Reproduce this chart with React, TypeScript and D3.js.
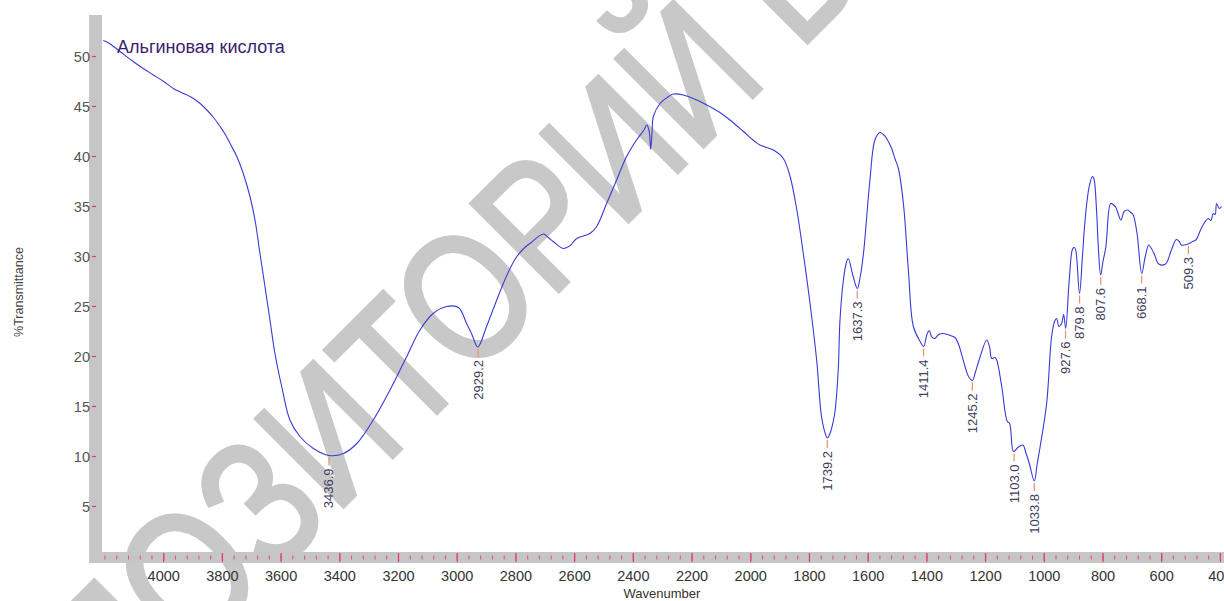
import React from 'react';
import * as d3 from 'd3';

// IR spectrum: wavenumber (cm-1) vs %T
const wavenumbers = [
  4206, 4190, 4149, 4104, 4070, 4035, 4000, 3967, 3940, 3910, 3880, 3853, 3830, 3808, 3790, 3774,
  3751, 3729, 3706, 3689, 3672, 3655, 3638, 3621, 3598, 3570, 3536, 3490, 3437, 3388, 3342, 3286,
  3229, 3172, 3127, 3082, 3036, 2996, 2968, 2950, 2930, 2900, 2870, 2843, 2820, 2797, 2770, 2752,
  2707, 2690, 2673, 2639, 2615, 2593, 2548, 2525, 2491, 2457, 2423, 2389, 2365, 2354, 2346, 2341,
  2336, 2332, 2309, 2280, 2264, 2230, 2184, 2128, 2100, 2071, 2025, 1990, 1969, 1923, 1889, 1866,
  1843, 1821, 1798, 1775, 1759, 1745, 1739, 1730, 1719, 1713, 1702, 1696, 1685, 1675, 1668, 1651,
  1637, 1627, 1616, 1594, 1577, 1560, 1548, 1537, 1520, 1509, 1497, 1480, 1463, 1446, 1423, 1411,
  1400, 1392, 1384, 1373, 1360, 1344, 1320, 1304, 1293, 1270, 1258, 1245, 1235, 1222, 1196, 1186,
  1179, 1168, 1162, 1145, 1126, 1118, 1105, 1090, 1073, 1062, 1051, 1034, 1024, 1014, 992, 975,
  965, 958, 950, 941, 934, 927, 915, 903, 897, 892, 880, 870, 861, 847, 836, 831,
  822, 816, 808, 800, 790, 774, 765, 756, 739, 728, 716, 705, 697, 684, 668, 656,
  644, 635, 624, 610, 587, 567, 550, 540, 533, 510, 495, 482, 470, 459, 442, 432,
  425, 418, 413, 404, 396,
];
const transmittance = [
  51.6, 51.4, 50.5, 49.5, 48.8, 48.15, 47.5, 46.8, 46.4, 46.0, 45.4, 44.65, 43.9, 43.0, 42.2, 41.3,
  40.0, 38.3, 36.0, 33.65, 30.3, 27.0, 23.65, 20.3, 17.0, 13.65, 12.0, 10.8, 10.1, 10.3, 11.3, 13.65,
  16.65, 20.0, 22.65, 24.3, 25.0, 24.9, 23.3, 22.2, 20.95, 23.0, 25.3, 27.3, 28.8, 30.0, 30.9, 31.3,
  32.25, 31.9, 31.5, 30.8, 31.1, 31.8, 32.3, 33.0, 35.3, 37.65, 40.0, 41.65, 42.6, 43.15, 42.5, 40.7,
  42.6, 44.0, 45.3, 46.0, 46.25, 46.15, 45.65, 44.8, 44.3, 43.65, 42.5, 41.6, 41.15, 40.65, 39.8, 38.0,
  34.65, 30.3, 25.3, 19.5, 14.0, 12.2, 11.85, 12.3, 13.5, 14.5, 18.65, 23.65, 27.5, 29.3, 29.8, 28.0,
  26.8, 28.0, 30.3, 37.65, 41.65, 42.4, 42.2, 41.8, 40.8, 39.8, 38.8, 35.3, 28.65, 23.0, 21.5, 21.0,
  22.2, 22.6, 22.0, 21.8, 22.2, 22.3, 22.1, 21.9, 21.3, 19.0, 18.0, 17.6, 18.4, 19.65, 21.65, 20.9,
  19.8, 19.9, 19.65, 17.0, 13.5, 13.3, 10.5, 10.9, 11.15, 10.3, 9.3, 7.55, 9.3, 11.0, 15.3, 22.0,
  23.5, 23.8, 23.0, 23.3, 24.2, 22.8, 27.65, 30.8, 30.9, 30.5, 26.3, 30.0, 33.65, 37.0, 38.0, 37.8,
  34.65, 31.0, 28.15, 29.5, 31.0, 35.3, 35.2, 34.9, 33.65, 34.5, 34.65, 34.4, 34.15, 32.3, 28.3, 30.0,
  31.15, 30.8, 30.15, 29.25, 29.25, 30.65, 31.7, 31.5, 31.15, 31.25, 31.5, 31.7, 32.5, 33.15, 33.8, 33.6,
  34.3, 34.2, 35.3, 34.8, 35.0,
];

// marked peaks
const peakWn = [3436.9, 2929.2, 1739.2, 1637.3, 1411.4, 1245.2, 1103.0, 1033.8, 927.6, 879.8, 807.6, 668.1, 509.3];
const peakT = [10.1, 20.95, 11.85, 26.8, 21.0, 17.6, 10.5, 7.55, 22.8, 26.3, 28.15, 28.3, 31.25];

const xTicks = d3.range(4000, 399, -200);
const yTicks = d3.range(5, 51, 5);

const W = 1224;
const H = 601;

export default function App() {
  const x = d3.scaleLinear().domain([4000, 400]).range([163.7, 1220.4]);
  const y = d3.scaleLinear().domain([0, 50]).range([556.5, 56.5]);

  const pts: [number, number][] = wavenumbers.map((w, i) => [w, transmittance[i]]);
  const line = d3.line<[number, number]>()
    .x(d => x(d[0]))
    .y(d => y(d[1]))
    .curve(d3.curveCatmullRom.alpha(0.5));

  const minorTicks = d3.range(4200, 399, -40);
  const font = 'Arial, "Liberation Sans", sans-serif';

  return (
    <svg width={W} height={H} style={{ position: 'absolute', left: 0, top: 0, background: '#fff' }} fontFamily={font}>
      <defs>
        <clipPath id="plot">
          <rect x={102} y={10} width={W - 102} height={542} />
        </clipPath>
      </defs>

      {/* watermark, condensed by a horizontal scale */}
      <g transform="translate(258,500) rotate(-45) scale(0.82,1)">
        <text x={-565} y={65} fontSize={180} fontFamily='"Liberation Sans", Arial, sans-serif'
          fill="#c8c8c8" stroke="#c8c8c8" strokeWidth={4}>
          РЕПОЗИТОРИЙ БГУ
        </text>
      </g>

      {/* axis bars */}
      <rect x={89} y={15} width={13} height={548} fill="#c6c6c6" />
      <rect x={89} y={552} width={W - 89} height={11} fill="#c6c6c6" />

      {/* x ticks inside the bar */}
      {minorTicks.map(t => (
        <line key={'m' + t} x1={x(t)} x2={x(t)} y1={555.5} y2={559.5} stroke="#e0507a" strokeWidth={1} />
      ))}
      {xTicks.map(t => (
        <line key={'M' + t} x1={x(t)} x2={x(t)} y1={553} y2={562} stroke="#e0406a" strokeWidth={1.3} />
      ))}
      {xTicks.map(t => (
        <text key={'xl' + t} x={x(t)} y={580.5} fontSize={14.5} fill="#333" textAnchor="middle">{t}</text>
      ))}

      {/* y ticks */}
      {yTicks.map(t => (
        <g key={'y' + t}>
          <line x1={92} x2={96} y1={y(t)} y2={y(t)} stroke="#e0406a" strokeWidth={1.2} />
          <text x={90} y={y(t) + 5} fontSize={14.5} fill="#555" textAnchor="end">{t}</text>
        </g>
      ))}

      <text transform="translate(23,292) rotate(-90)" fontSize={12.5} fill="#444" textAnchor="middle">%Transmittance</text>
      <text x={662} y={598} fontSize={13} fill="#333" textAnchor="middle">Wavenumber</text>

      {/* spectrum */}
      <path d={line(pts) || ''} fill="none" stroke="#3a3ad6" strokeWidth={1.1} clipPath="url(#plot)" />

      {/* peak marks */}
      {peakWn.map((w, i) => {
        const px = x(w);
        const py = y(peakT[i]);
        return (
          <g key={'p' + w}>
            <line x1={px} x2={px} y1={py + 2} y2={py + 10} stroke="#e8906a" strokeWidth={1.2} />
            <text transform={`translate(${px + 4.5},${py + 13}) rotate(-90)`} fontSize={13} fill="#40405a" textAnchor="end">
              {w.toFixed(1)}
            </text>
          </g>
        );
      })}

      <text x={117} y={53} fontSize={18} fill="#3c1e6e">Альгиновая кислота</text>
    </svg>
  );
}
